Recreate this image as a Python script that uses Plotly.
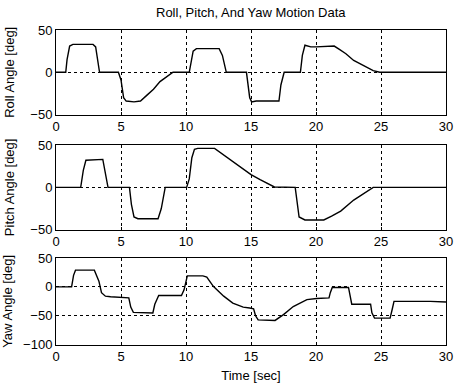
import plotly.graph_objects as go

# ---------------- data ----------------
title_text = "Roll, Pitch, And Yaw Motion Data"
x_label = "Time [sec]"
y_labels = ["Roll Angle [deg]", "Pitch Angle [deg]", "Yaw Angle [deg]"]

x_ticks = [0, 5, 10, 15, 20, 25, 30]
roll_ticks = [-50, 0, 50]
pitch_ticks = [-50, 0, 50]
yaw_ticks = [-100, -50, 0, 50]

roll_t = [0, 0.75, 0.85, 1.05, 1.3, 2.85, 3.05, 3.35, 4.8, 5.0, 5.2, 5.4, 6.0, 6.5,
          7.0, 7.5, 8.0, 8.5, 9.0, 9.3, 10.25, 10.55, 10.8, 12.55, 12.8, 13.1, 14.65,
          14.9, 15.05, 15.4, 17.15, 17.3, 17.55, 18.8, 18.95, 19.15, 19.6, 20.0, 20.8,
          21.4, 21.8, 22.3, 22.9, 23.7, 24.4, 24.9, 30]
roll_deg = [0, 0, 15, 31, 33, 33, 30, 0, 0, -9, -30, -34, -35, -34,
            -27, -20, -11, -5, 0, 0, 0, 25, 28, 28, 20, 0, 0,
            -30, -35, -34, -34, -15, 0, 0, 20, 32, 30, 30, 31,
            31, 27, 22, 14, 7.5, 2, 0, 0]

pitch_t = [0, 1.9, 2.1, 2.3, 3.6, 3.75, 4.0, 5.65, 5.8, 6.0, 6.3, 7.85, 8.1, 8.4,
           10.05, 10.25, 10.45, 10.65, 10.9, 12.2, 13.1, 14.1, 15.0, 15.7, 16.2, 16.8,
           18.4, 18.55, 18.7, 19.15, 20.6, 21.2, 21.9, 22.9, 23.9, 24.4, 30]
pitch_deg = [0, 0, 20, 32, 33, 20, 0, 0, -20, -35, -37, -37, -25, 0,
             0, 10, 35, 45, 46, 46, 36, 24, 15, 9, 5, 0.5,
             0, -20, -35, -38.5, -38.5, -34, -28, -15, -5, 0, 0]

yaw_t = [0, 1.2, 1.35, 1.5, 2.95, 3.1, 3.3, 3.5, 3.8, 4.2, 5.0, 5.6, 5.75, 5.95,
         7.45, 7.6, 7.9, 9.65, 9.85, 10.0, 10.1, 11.3, 11.6, 12.1, 12.5, 12.9, 13.6,
         14.4, 14.9, 15.2, 15.35, 15.55, 16.85, 17.5, 18.25, 19.3, 20.05, 21.0, 21.1,
         21.25, 22.5, 22.6, 22.75, 24.2, 24.3, 24.5, 25.7, 25.85, 26.0, 28.8, 30]
yaw_deg = [0, 0, 20, 29, 29, 20, 10, -10, -16, -17, -18, -19, -35, -44,
           -45, -30, -15, -15, -5, 10, 19, 19, 17, 1, -8, -16, -28,
           -35, -36.6, -37.8, -50, -57, -58, -48, -34, -22, -20, -19, -10,
           -1, -1, -15, -30, -30, -45, -54, -54, -40, -25, -25, -26]

# ---------------- figure ----------------
W, H = 455, 384
FONT = "Liberation Sans, Arial, sans-serif"

fig = go.Figure()
series = [(roll_t, roll_deg), (pitch_t, pitch_deg), (yaw_t, yaw_deg)]
for i, (t, v) in enumerate(series):
    sfx = "" if i == 0 else str(i + 1)
    fig.add_trace(go.Scatter(x=t, y=v, mode="lines", xaxis="x" + sfx, yaxis="y" + sfx,
                             line=dict(color="black", width=1.4), showlegend=False,
                             hoverinfo="skip"))

x_dom = [56 / W, 446 / W]
y_doms = [[1 - 114.6 / H, 1 - 30 / H],
          [1 - 229.7 / H, 1 - 145 / H],
          [1 - 344.7 / H, 1 - 258 / H]]
y_ranges = [[-50, 50], [-50, 50], [-100, 50]]
y_tickvals = [roll_ticks, pitch_ticks, yaw_ticks]

axis_common = dict(showline=True, linecolor="black", linewidth=1, mirror=True,
                   showgrid=True, gridcolor="black", gridwidth=1, griddash="dot",
                   zeroline=False, ticks="inside", ticklen=3, tickcolor="black",
                   automargin=False,
                   tickfont=dict(family=FONT, size=13, color="black"))

layout = dict(width=W, height=H, margin=dict(l=0, r=0, t=0, b=0, autoexpand=False),
              paper_bgcolor="white", plot_bgcolor="white",
              font=dict(family=FONT, size=13, color="black"))
for i in range(3):
    sfx = "" if i == 0 else str(i + 1)
    xa = dict(axis_common, domain=x_dom, range=[0, 30], tickvals=x_ticks,
              anchor="y" + sfx)
    if i == 2:
        xa["title"] = dict(text=x_label, standoff=7,
                           font=dict(family=FONT, size=13, color="black"))
    ya = dict(axis_common, domain=y_doms[i], range=y_ranges[i], tickvals=y_tickvals[i],
              anchor="x" + sfx,
              title=dict(text=y_labels[i], standoff=12,
                         font=dict(family=FONT, size=13, color="black")))
    layout["xaxis" + sfx] = xa
    layout["yaxis" + sfx] = ya

layout["annotations"] = [dict(text=title_text, x=(56 + 446) / 2 / W, y=1 - 13 / H,
                              xref="paper", yref="paper", showarrow=False,
                              xanchor="center", yanchor="middle",
                              font=dict(family=FONT, size=13, color="black"))]
fig.update_layout(**layout)
fig.write_html("out.html", config={"displayModeBar": False},
               post_script="document.body.style.margin='0';document.body.style.overflow='hidden';")
